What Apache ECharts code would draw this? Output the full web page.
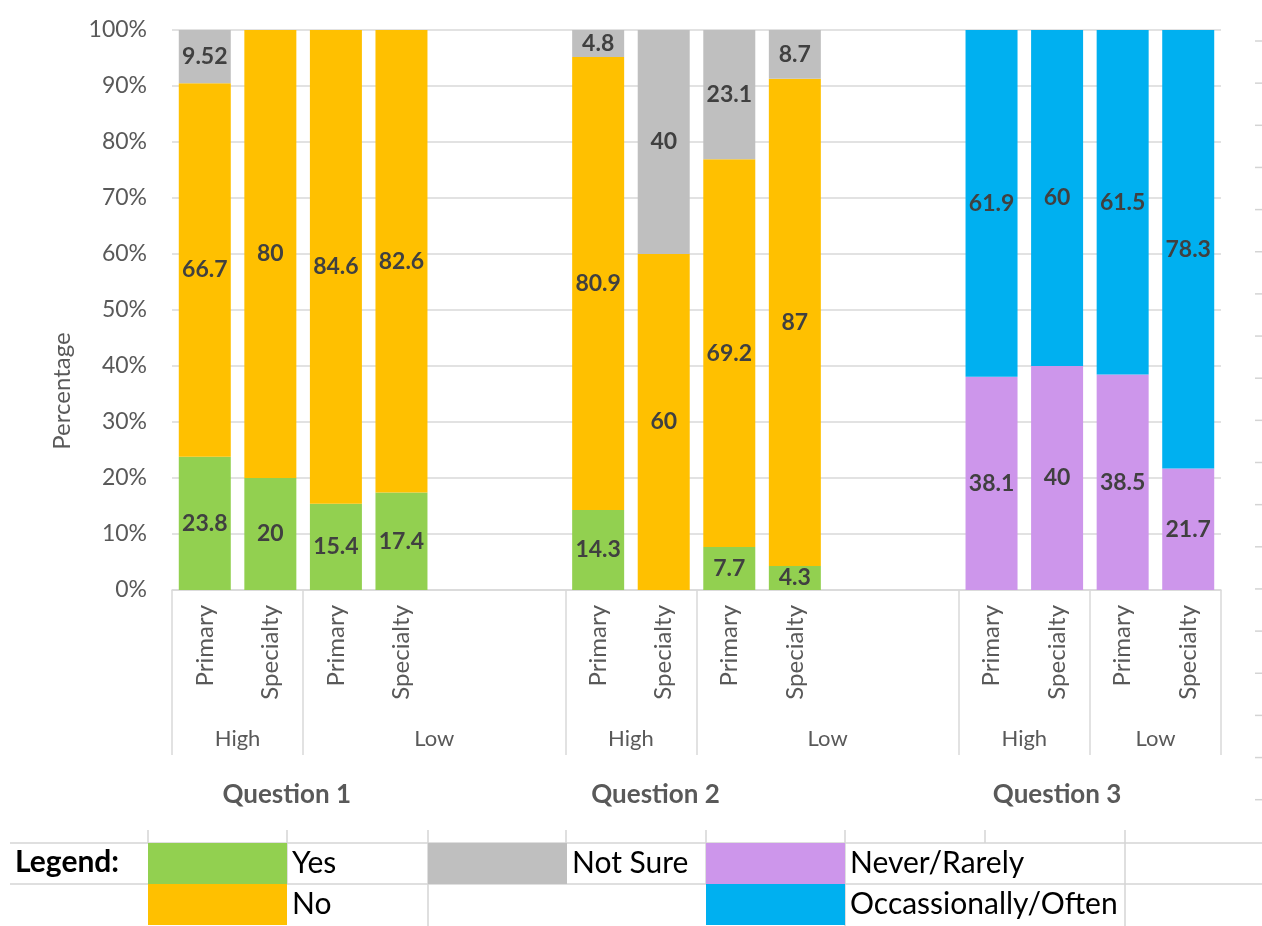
<!DOCTYPE html>
<html>
<head>
<meta charset="utf-8">
<title>Responses by question</title>
<script src="https://cdn.jsdelivr.net/npm/echarts@6/dist/echarts.min.js"></script>
<style>
  html, body { margin: 0; padding: 0; background: #fff; }
  #chart { width: 1262px; height: 926px; }
</style>
</head>
<body>
<div id="chart"></div>
<script>
// 16 slots: Q1 (4 bars), 2 blanks, Q2 (4 bars), 2 blanks, Q3 (4 bars)
const subLabels = ['Primary', 'Specialty', 'Primary', 'Specialty', '', '',
  'Primary', 'Specialty', 'Primary', 'Specialty', '', '',
  'Primary', 'Specialty', 'Primary', 'Specialty']
// placed on slot boundaries 0..16
const groupLabels = ['', 'High', '', '', 'Low', '', '', 'High', '', '', 'Low', '', '', 'High', '', 'Low', '']
const questionLabels = ['Question 1', 'Question 2', 'Question 3']
const groupEdges = [0, 2, 6, 8, 12, 14]

const yes = [23.8, 20, 15.4, 17.4, null, null, 14.3, null, 7.7, 4.3, null, null, null, null, null, null]
const no = [66.7, 80, 84.6, 82.6, null, null, 80.9, 60, 69.2, 87, null, null, null, null, null, null]
const notSure = [9.52, null, null, null, null, null, 4.8, 40, 23.1, 8.7, null, null, null, null, null, null]
const neverRarely = [null, null, null, null, null, null, null, null, null, null, null, null, 38.1, 40, 38.5, 21.7]
const occOften = [null, null, null, null, null, null, null, null, null, null, null, null, 61.9, 60, 61.5, 78.3]

const FONT = 'Lato'
const AXIS_GREY = '#595959'
const LINE_GREY = '#d9d9d9'

// question titles sit on an eighth-of-a-slot axis
const questionSlots = [14, 59, 108]
const questionAxis = new Array(129).fill('')
questionSlots.forEach((s, i) => { questionAxis[s] = questionLabels[i] })

function barSeries (name, data, color) {
  return {
    name: name,
    type: 'bar',
    stack: 'total',
    barWidth: 52,
    data: data,
    itemStyle: { color: color },
    label: {
      show: true,
      position: 'inside',
      fontFamily: FONT,
      fontSize: 23,
      fontWeight: 'bold',
      color: '#404040'
    }
  }
}

// legend laid out like the sheet table: [series, left, top]
const legendCells = [
  ['Yes', 148, 843],
  ['Not Sure', 428, 843],
  ['Never/Rarely', 706, 843],
  ['No', 148, 884],
  ['Occassionally/Often', 706, 884]
]
const legends = legendCells.map(c => ({
  data: [c[0]],
  left: c[1],
  top: c[2],
  padding: 0,
  icon: 'rect',
  itemWidth: 139,
  itemHeight: 41,
  selectedMode: false,
  textStyle: { fontFamily: FONT, fontSize: 30, color: '#000' }
}))

// sheet grid lines around the legend table
const decor = []
const hLine = (x1, x2, y) => decor.push({ type: 'line', shape: { x1: x1, y1: y, x2: x2, y2: y }, style: { stroke: '#d4d4d4', lineWidth: 1.5 }, silent: true })
const vLine = (x, y1, y2) => decor.push({ type: 'line', shape: { x1: x, y1: y1, x2: x, y2: y2 }, style: { stroke: '#d4d4d4', lineWidth: 1.5 }, silent: true })
hLine(10, 1262, 843)
hLine(10, 1262, 884);
[148, 287, 428, 566, 706, 845, 985, 1125].forEach(x => vLine(x, 830, 843));
[287, 428, 566, 706, 845, 1125].forEach(x => vLine(x, 843, 884));
[428, 845, 1125].forEach(x => vLine(x, 884, 926))
for (let y = 41; y < 810; y += 42.15) {
  decor.push({ type: 'line', shape: { x1: 1255, y1: y, x2: 1262, y2: y }, style: { stroke: '#d4d4d4', lineWidth: 1.5 }, silent: true })
}

const chart = echarts.init(document.getElementById('chart'))
const option = {
  animation: false,
  textStyle: { fontFamily: FONT },
  grid: { left: 172, right: 41, top: 30, bottom: 336 },
  title: {
    text: 'Legend:',
    left: 15,
    top: 847,
    padding: 0,
    textStyle: { fontFamily: FONT, fontSize: 30, fontWeight: 'bold', color: '#000' }
  },
  legend: legends,
  xAxis: [
    {
      type: 'category',
      data: subLabels,
      axisLine: { lineStyle: { color: LINE_GREY, width: 1.5 } },
      axisTick: {
        show: true,
        length: 165,
        interval: (index) => groupEdges.includes(index),
        lineStyle: { color: LINE_GREY, width: 1.5 }
      },
      axisLabel: {
        interval: 0,
        rotate: 90,
        margin: 15,
        fontFamily: FONT,
        fontSize: 24,
        color: AXIS_GREY
      }
    },
    {
      type: 'category',
      data: groupLabels,
      boundaryGap: false,
      position: 'bottom',
      offset: 130,
      axisLine: { show: false },
      axisTick: { show: false },
      axisLabel: { interval: 0, margin: 8, fontFamily: FONT, fontSize: 22, color: AXIS_GREY }
    },
    {
      type: 'category',
      data: questionAxis,
      boundaryGap: false,
      position: 'bottom',
      offset: 184,
      axisLine: { show: false },
      axisTick: { show: false },
      axisLabel: { interval: 0, margin: 8, fontFamily: FONT, fontSize: 26, fontWeight: 'bold', color: AXIS_GREY }
    }
  ],
  yAxis: {
    type: 'value',
    min: 0,
    max: 100,
    interval: 10,
    name: 'Percentage',
    nameLocation: 'middle',
    nameGap: 98,
    nameTextStyle: { fontFamily: FONT, fontSize: 24, color: AXIS_GREY, padding: [0, 162, 0, 0] },
    axisLine: { show: false },
    axisTick: { show: false },
    axisLabel: { formatter: '{value}%', margin: 25, fontFamily: FONT, fontSize: 23, color: AXIS_GREY },
    splitLine: { lineStyle: { color: LINE_GREY, width: 1.5 } }
  },
  series: [
    barSeries('Yes', yes, '#92D050'),
    barSeries('No', no, '#FFC000'),
    barSeries('Not Sure', notSure, '#BFBFBF'),
    barSeries('Never/Rarely', neverRarely, '#CD96EB'),
    barSeries('Occassionally/Often', occOften, '#00B0F0')
  ],
  graphic: decor
}
chart.setOption(option)
window.addEventListener('resize', function () {
  chart.resize()
})
</script>
</body>
</html>
